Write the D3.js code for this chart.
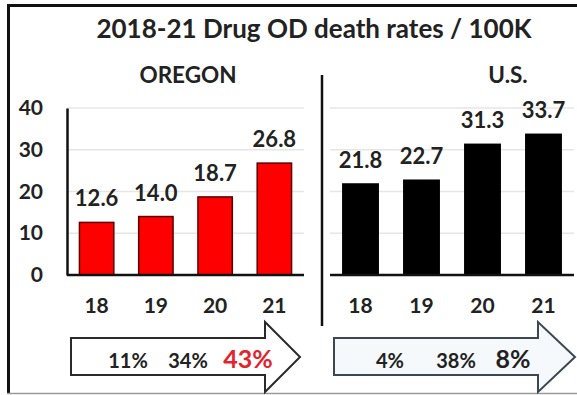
<!DOCTYPE html>
<html>
<head>
<meta charset="utf-8">
<script src="https://cdn.jsdelivr.net/npm/d3@7"></script>
<style>
  html, body { margin: 0; padding: 0; background: #fff; }
  svg { display: block; }
  text { font-family: Lato, "Open Sans", sans-serif; font-weight: 700; }
</style>
</head>
<body>
<script>
// Drug overdose death rates per 100K, 2018-2021
const years = ["18", "19", "20", "21"];
const oregonRates = [12.6, 14.0, 18.7, 26.8];
const usRates = [21.8, 22.7, 31.3, 33.7];
const yTicks = [0, 10, 20, 30, 40];
// year-over-year change labels shown inside the arrows
const oregonChanges = ["11%", "34%", "43%"];
const usChanges = ["4%", "38%", "8%"];

const W = 577, H = 395;
const svg = d3.select("body").append("svg").attr("width", W).attr("height", H);

// frame
svg.append("line").attr("x1", 7).attr("x2", W).attr("y1", 5.5).attr("y2", 5.5)
  .attr("stroke", "#111").attr("stroke-width", 3);
svg.append("line").attr("x1", 8.5).attr("x2", 8.5).attr("y1", 4).attr("y2", 394)
  .attr("stroke", "#111").attr("stroke-width", 3);
svg.append("line").attr("x1", 7).attr("x2", W).attr("y1", 393.5).attr("y2", 393.5)
  .attr("stroke", "#9a9a9a").attr("stroke-width", 1.5);

// title + panel headings
svg.append("text").attr("x", 314).attr("y", 38).attr("text-anchor", "middle")
  .attr("font-size", 26).attr("fill", "#222").text("2018-21 Drug OD death rates / 100K");
svg.append("text").attr("x", 188).attr("y", 83).attr("text-anchor", "middle")
  .attr("font-size", 22.5).attr("fill", "#222").text("OREGON");
svg.append("text").attr("x", 508).attr("y", 83).attr("text-anchor", "middle")
  .attr("font-size", 22.5).attr("fill", "#222").text("U.S.");

// separator between panels
svg.append("line").attr("x1", 322).attr("x2", 322).attr("y1", 75).attr("y2", 326)
  .attr("stroke", "#111").attr("stroke-width", 2.5);

const y = d3.scaleLinear().domain([0, 40]).range([275, 108]);

function panel(values, x0, x1, fill, stroke, showAxis) {
  const x = d3.scaleBand().domain(years).range([x0, x1])
    .paddingInner(0.42).paddingOuter(0.21);
  const g = svg.append("g");

  // gridlines
  g.selectAll(".grid").data(yTicks.slice(1)).join("line")
    .attr("x1", x0).attr("x2", x1)
    .attr("y1", d => y(d)).attr("y2", d => y(d))
    .attr("stroke", "#e6e6e6").attr("stroke-width", 1.5);

  // bars
  g.selectAll(".bar").data(values).join("rect")
    .attr("x", (d, i) => x(years[i]))
    .attr("width", x.bandwidth())
    .attr("y", d => y(d))
    .attr("height", d => y(0) - y(d))
    .attr("fill", fill).attr("stroke", stroke).attr("stroke-width", 1.5);

  // value labels
  g.selectAll(".val").data(values).join("text")
    .attr("x", (d, i) => x(years[i]) + x.bandwidth() / 2)
    .attr("y", d => y(d) - 16)
    .attr("text-anchor", "middle").attr("font-size", 22).attr("fill", "#222")
    .text(d => d.toFixed(1));

  // category axis
  const xAxis = g.append("g").attr("transform", `translate(0,${y(0)})`)
    .call(d3.axisBottom(x).tickSize(0).tickPadding(23));
  xAxis.select(".domain").attr("stroke", "#111").attr("stroke-width", 2.5)
    .attr("d", `M${x0},0H${x1}`);
  xAxis.selectAll("text").attr("font-size", 21).attr("fill", "#222")
    .attr("font-family", "Lato, sans-serif").attr("font-weight", 700);

  if (showAxis) {
    const yAxis = g.append("g").attr("transform", `translate(${x0},0)`)
      .call(d3.axisLeft(y).tickValues(yTicks).tickSize(0).tickPadding(24));
    yAxis.select(".domain").attr("stroke", "#111").attr("stroke-width", 2.5);
    yAxis.selectAll("text").attr("font-size", 21).attr("fill", "#222")
      .attr("font-family", "Lato, sans-serif").attr("font-weight", 700);
  }
}

panel(oregonRates, 67, 304, "#ff0000", "#5a0000", true);
panel(usRates, 330, 574, "#000000", "#000000", false);

// block arrows with change labels
function arrow(xStart, xHead, xTip, fill, stroke) {
  const top = 338, bot = 375, hTop = 322, hBot = 392, mid = 357;
  const pts = [[xStart, top], [xHead, top], [xHead, hTop], [xTip, mid],
               [xHead, hBot], [xHead, bot], [xStart, bot]];
  svg.append("path").attr("d", d3.line()(pts) + "Z")
    .attr("fill", fill).attr("stroke", stroke).attr("stroke-width", 2)
    .attr("stroke-linejoin", "miter");
}
arrow(71, 265, 300, "#ffffff", "#2a2a2a");
arrow(334, 538, 575, "#f6f9fc", "#3c4654");

const labelY = 368;
const oregonX = [128, 188, 248];
const usX = [390, 456, 513];
svg.selectAll(".orc").data(oregonChanges).join("text")
  .attr("x", (d, i) => oregonX[i]).attr("y", labelY).attr("text-anchor", "middle")
  .attr("font-size", (d, i) => i === 2 ? 25 : 20)
  .attr("fill", (d, i) => i === 2 ? "#e3232e" : "#222")
  .text(d => d);
svg.selectAll(".usc").data(usChanges).join("text")
  .attr("x", (d, i) => usX[i]).attr("y", labelY).attr("text-anchor", "middle")
  .attr("font-size", (d, i) => i === 2 ? 25 : 20)
  .attr("fill", "#222")
  .text(d => d);
</script>
</body>
</html>
